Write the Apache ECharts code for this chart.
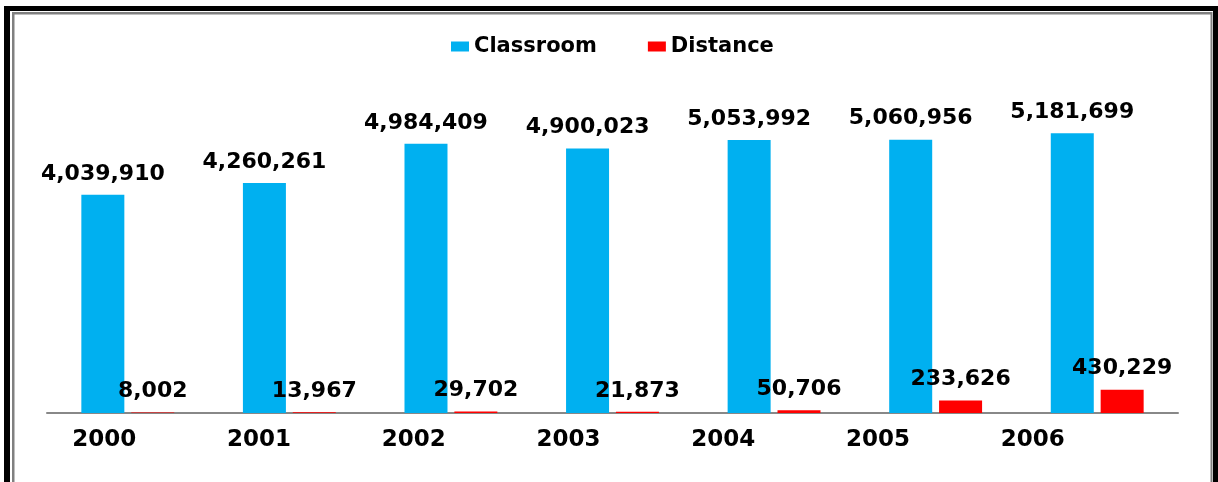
<!DOCTYPE html>
<html>
<head>
<meta charset="utf-8">
<script src="https://cdn.jsdelivr.net/npm/echarts@6/dist/echarts.min.js"></script>
<style>html,body{margin:0;padding:0;background:#fff}#c{width:1218px;height:482px}</style>
</head>
<body>
<div id="c"></div>
<script>
var years = ['2000', '2001', '2002', '2003', '2004', '2005', '2006'];
var classroom = [4039910, 4260261, 4984409, 4900023, 5053992, 5060956, 5181699];
var distance = [8002, 13967, 29702, 21873, 50706, 233626, 430229];

var chart = echarts.init(document.getElementById('c'));
var fmt = function (p) { return p.value.toLocaleString('en-US'); };
var lbl = {
  show: true, position: 'top', distance: 10, formatter: fmt,
  color: '#000', fontFamily: 'DejaVu Sans', fontWeight: 'bold', fontSize: 22
};
chart.setOption({
  animation: false,
  backgroundColor: '#fff',
  textStyle: { fontFamily: 'DejaVu Sans' },
  legend: {
    left: 446, top: 31, itemWidth: 18, itemHeight: 10, itemGap: 51,
    icon: 'rect',
    textStyle: { fontFamily: 'DejaVu Sans', fontWeight: 'bold', fontSize: 21, color: '#000' },
    data: ['Classroom', 'Distance']
  },
  grid: [
    { left: 47, right: 40, top: 89, bottom: 69, containLabel: false },
    { left: 27, right: 108, top: 89, bottom: 69, containLabel: false }
  ],
  xAxis: [
    {
      type: 'category', data: years, gridIndex: 0,
      axisLine: { lineStyle: { color: '#888', width: 2 } },
      axisTick: { show: false },
      axisLabel: { show: false }
    },
    {
      type: 'category', data: years, gridIndex: 1,
      axisLine: { show: false },
      axisTick: { show: false },
      axisLabel: { color: '#000', fontFamily: 'DejaVu Sans', fontWeight: 'bold', fontSize: 23, margin: 16 }
    }
  ],
  yAxis: [
    { type: 'value', min: 0, max: 6000000, show: false, gridIndex: 0, splitLine: { show: false } },
    { type: 'value', min: 0, max: 6000000, show: false, gridIndex: 1, splitLine: { show: false } }
  ],
  series: [
    { name: 'Classroom', type: 'bar', data: classroom, barWidth: 43, barGap: '16%',
      itemStyle: { color: '#00B0F0' }, label: lbl },
    { name: 'Distance', type: 'bar', data: distance, barWidth: 43, barGap: '16%',
      itemStyle: { color: '#FF0000' }, label: lbl }
  ],
  graphic: [
    { type: 'rect', shape: { x: 4, y: 6, width: 6, height: 476 }, style: { fill: '#000' } },
    { type: 'rect', shape: { x: 4, y: 6, width: 1214, height: 5 }, style: { fill: '#000' } },
    { type: 'rect', shape: { x: 1213, y: 6, width: 5, height: 476 }, style: { fill: '#000' } },
    { type: 'rect', shape: { x: 12, y: 12, width: 2.5, height: 470 }, style: { fill: '#808080' } },
    { type: 'rect', shape: { x: 12, y: 12, width: 1200, height: 2.5 }, style: { fill: '#808080' } },
    { type: 'rect', shape: { x: 1210.5, y: 12, width: 2, height: 470 }, style: { fill: '#808080' } }
  ]
});
</script>
</body>
</html>
